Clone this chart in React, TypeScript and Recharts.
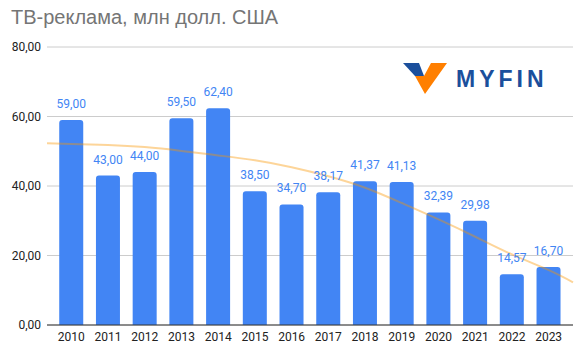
import * as React from "react"
import {
  ComposedChart, Bar, Line, LabelList,
  XAxis, YAxis, CartesianGrid,
} from "recharts"

// ── Data ───────────────────────────────────────────────────────
const YEARS = [
  "2010", "2011", "2012", "2013", "2014", "2015", "2016",
  "2017", "2018", "2019", "2020", "2021", "2022", "2023",
]
const TV_ADS = [
  59.0, 43.0, 44.0, 59.5, 62.4, 38.5, 34.7,
  38.17, 41.37, 41.13, 32.39, 29.98, 14.57, 16.7,
]
const Y_TICKS = [0, 20, 40, 60, 80]

// polynomial trend (x = category index, ends reach the plot edges)
const TREND_X = [-0.66, 0, 1, 2, 3, 4, 5, 6, 7, 8, 9, 10, 11, 12, 13, 13.66]
const TREND_Y = [52.3, 52.1, 51.8, 51.2, 50.1, 48.8, 47.4, 45.4, 42.8, 39.5, 35.1, 30.4, 25.4, 20.3, 15.8, 12.3]

const TITLE = "ТВ-реклама, млн долл. США"

// ── Style ──────────────────────────────────────────────────────
const BAR_BLUE = "#4285F4"
const FONT = "Roboto, 'Liberation Sans', Arial, sans-serif"
const AXIS_TICK = { fontFamily: FONT, fontSize: 12, fill: "#222222" }

const fmt = (v: number) => v.toFixed(2).replace(".", ",")

const chartData = YEARS.map((year, i) => ({ year, value: TV_ADS[i] }))
const trendData = TREND_X.map((x, i) => ({ x, trend: TREND_Y[i] }))

// ── Logo ───────────────────────────────────────────────────────
function Logo() {
  return (
    <svg width={587} height={354} style={{ position: "absolute", left: 0, top: 0, pointerEvents: "none" }}>
      <polygon points="403,63 419,63 424,76 415,76" fill="#1B4F9C" />
      <polygon points="415,76 424,76 431,63 447,63 425,94" fill="#FF7F00" />
      <text
        x={456}
        y={87}
        fontFamily="'Liberation Sans', Arial, sans-serif"
        fontWeight={700}
        fontSize={23}
        letterSpacing={4}
        fill="#1B4F9C"
      >
        MYFIN
      </text>
    </svg>
  )
}

export default function App() {
  return (
    <div style={{ position: "absolute", left: 0, top: 0, width: 587, height: 354, background: "#FFFFFF" }}>
      <div style={{
        position: "absolute",
        left: 11,
        top: 6,
        fontFamily: "'Liberation Sans', Arial, sans-serif",
        fontSize: 20,
        color: "#757575",
        whiteSpace: "nowrap",
      }}>
        {TITLE}
      </div>
      <ComposedChart
        width={587}
        height={354}
        data={chartData}
        margin={{ top: 47, right: 14, bottom: 0, left: 0 }}
        barCategoryGap="17%"
      >
        <CartesianGrid vertical={false} stroke="#CCCCCC" />
        <XAxis
          dataKey="year"
          tick={AXIS_TICK}
          axisLine={{ stroke: "#333333" }}
          tickLine={false}
          tickMargin={1}
          padding={{ left: 6, right: 6 }}
          height={29}
        />
        <XAxis
          xAxisId="trend"
          type="number"
          dataKey="x"
          domain={[TREND_X[0], TREND_X[TREND_X.length - 1]]}
          hide
        />
        <YAxis
          domain={[0, 80]}
          ticks={Y_TICKS}
          tick={AXIS_TICK}
          tickFormatter={fmt}
          axisLine={false}
          tickLine={false}
          tickMargin={0}
          width={47}
        />
        <Bar dataKey="value" fill={BAR_BLUE} radius={[3, 3, 0, 0]} isAnimationActive={false}>
          <LabelList
            dataKey="value"
            position="top"
            offset={12}
            formatter={(v: any) => fmt(Number(v))}
            style={{ fontFamily: FONT, fontSize: 12, fill: BAR_BLUE }}
          />
        </Bar>
        <Line
          xAxisId="trend"
          data={trendData}
          dataKey="trend"
          type="natural"
          stroke="#FA9600"
          strokeOpacity={0.4}
          strokeWidth={2}
          dot={false}
          activeDot={false}
          isAnimationActive={false}
        />
      </ComposedChart>
      <Logo />
    </div>
  )
}
